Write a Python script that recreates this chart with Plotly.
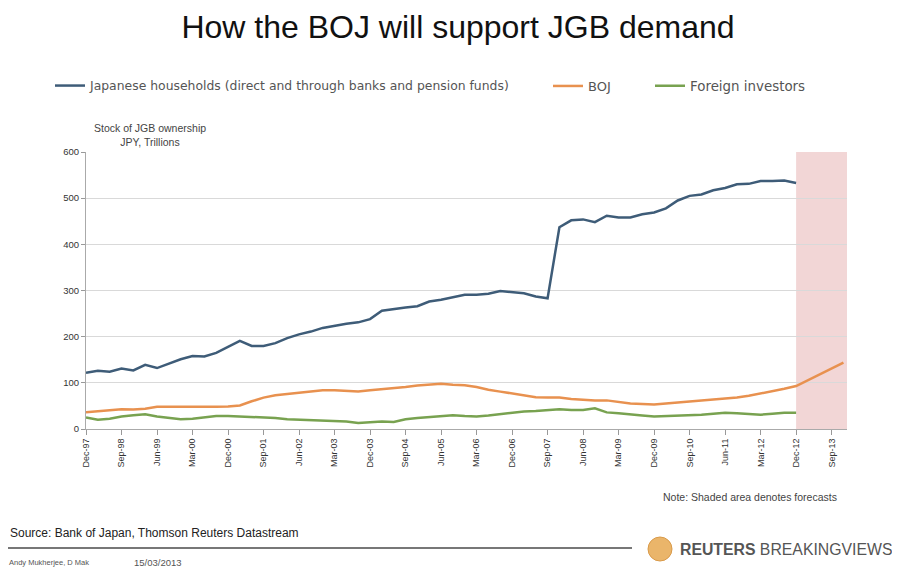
import plotly.graph_objects as go

quarters = [
    "Dec-97",
    "Mar-98", "Jun-98", "Sep-98", "Dec-98",
    "Mar-99", "Jun-99", "Sep-99", "Dec-99",
    "Mar-00", "Jun-00", "Sep-00", "Dec-00",
    "Mar-01", "Jun-01", "Sep-01", "Dec-01",
    "Mar-02", "Jun-02", "Sep-02", "Dec-02",
    "Mar-03", "Jun-03", "Sep-03", "Dec-03",
    "Mar-04", "Jun-04", "Sep-04", "Dec-04",
    "Mar-05", "Jun-05", "Sep-05", "Dec-05",
    "Mar-06", "Jun-06", "Sep-06", "Dec-06",
    "Mar-07", "Jun-07", "Sep-07", "Dec-07",
    "Mar-08", "Jun-08", "Sep-08", "Dec-08",
    "Mar-09", "Jun-09", "Sep-09", "Dec-09",
    "Mar-10", "Jun-10", "Sep-10", "Dec-10",
    "Mar-11", "Jun-11", "Sep-11", "Dec-11",
    "Mar-12", "Jun-12", "Sep-12", "Dec-12",
    "Mar-13", "Jun-13", "Sep-13", "Dec-13",
]

households = [
    122, 126, 124, 131, 127, 139, 132, 142, 151, 158, 157, 165, 178,
    191, 180, 180, 186, 197, 205, 211, 219, 224, 228, 231, 238,
    256, 260, 263, 266, 276, 280, 285, 291, 291, 293, 299, 297,
    294, 287, 283, 437, 452, 454, 448, 462, 458, 458, 465, 469,
    478, 495, 505, 508, 517, 522, 530, 531, 537, 537, 538, 533,
]

boj = [
    36, 38, 41, 43, 42, 44, 48, 48, 47, 48, 48, 48, 49,
    51, 60, 68, 73, 76, 78, 81, 84, 84, 82, 81, 84,
    86, 88, 91, 94, 96, 98, 96, 95, 91, 85, 81, 77,
    73, 69, 68, 68, 65, 63, 62, 62, 59, 55, 54, 53,
    55, 57, 60, 62, 64, 66, 68, 72, 77, 81, 87, 93,
    106, 118, 131, 144,
]

foreign = [
    25, 20, 22, 27, 30, 32, 27, 24, 21, 22, 25, 28, 28,
    27, 26, 26, 24, 21, 20, 20, 19, 18, 16, 13, 14,
    16, 15, 21, 24, 26, 29, 30, 28, 27, 29, 32, 35,
    38, 39, 41, 43, 41, 41, 45, 36, 34, 31, 29, 27,
    28, 28, 30, 31, 33, 35, 34, 33, 31, 33, 35, 35,
]

tick_labels = quarters[::3]
forecast_start = "Dec-12"

hh_color = "#3e5c78"
boj_color = "#e8914f"
fx_color = "#78a250"

# the page places the figure 8px in from the window's top-left corner
OFF = 8
W, H = 900 - OFF, 575 - OFF
PL, PR, PT, PB = 86, 847, 152, 429  # plot area in window pixels
PW, PH = PR - PL, PB - PT


def px(x):
    return (x - PL) / PW


def py(y):
    return (PB - y) / PH


def cx(x):
    return (x - OFF) / W


def cy(y):
    return 1 - (y - OFF) / H


fig = go.Figure()
fig.add_trace(go.Scatter(
    x=quarters[:len(households)], y=households, mode="lines",
    name="Japanese households (direct and through banks and pension funds)",
    line=dict(color=hh_color, width=2.5), legend="legend", showlegend=True,
))
fig.add_trace(go.Scatter(
    x=quarters[:len(boj)], y=boj, mode="lines", name="BOJ",
    line=dict(color=boj_color, width=2.5), legend="legend2", showlegend=True,
))
fig.add_trace(go.Scatter(
    x=quarters[:len(foreign)], y=foreign, mode="lines", name="Foreign investors",
    line=dict(color=fx_color, width=2.5), legend="legend3", showlegend=True,
))

fs = quarters.index(forecast_start)
fig.add_shape(type="rect", xref="x", yref="y", x0=fs, x1=len(quarters) - 1 + 0.3,
              y0=0, y1=600, fillcolor="rgba(226,165,165,0.45)", line_width=0, layer="below")


def leg(x, size):
    return dict(orientation="h", xref="container", yref="container",
                yanchor="middle", y=cy(86), xanchor="left", x=cx(x),
                font=dict(family="DejaVu Sans", size=size, color="#555555"),
                bgcolor="rgba(0,0,0,0)", itemwidth=30)


fig.update_layout(
    width=W, height=H, showlegend=True,
    paper_bgcolor="white", plot_bgcolor="white",
    margin=dict(l=PL - OFF, r=W - (PR - OFF), t=PT - OFF, b=H - (PB - OFF), autoexpand=False),
    title=dict(text="How the BOJ will support JGB demand", x=cx(458), xanchor="center",
               y=cy(27), yanchor="middle",
               font=dict(family="Liberation Sans", size=32, color="#111111")),
    legend=leg(50, 12.4),
    legend2=leg(548, 13),
    legend3=leg(650, 13.4),
    xaxis=dict(
        type="category", range=[0, len(quarters) - 1 + 0.3],
        tickmode="array", tickvals=tick_labels, ticktext=tick_labels,
        tickangle=-90, tickfont=dict(family="Liberation Sans", size=9, color="#333333"),
        ticks="outside", ticklen=5, tickcolor="#999999",
        showline=True, linecolor="#aaaaaa", linewidth=1,
        showgrid=False, zeroline=False,
    ),
    yaxis=dict(
        range=[0, 600], dtick=100,
        tickfont=dict(family="Liberation Sans", size=9.5, color="#333333"),
        ticks="outside", ticklen=4, tickcolor="#999999",
        showline=True, linecolor="#aaaaaa", linewidth=1,
        showgrid=True, gridcolor="#d9d9d9", gridwidth=1, zeroline=False,
    ),
)

fig.add_annotation(text="Stock of JGB ownership<br>JPY, Trillions", xref="paper", yref="paper",
                   x=px(150), y=py(135), xanchor="center", yanchor="middle", showarrow=False,
                   font=dict(family="Liberation Sans", size=10.5, color="#444444"), align="center")
fig.add_annotation(text="Note: Shaded area denotes forecasts", xref="paper", yref="paper",
                   x=px(839), y=py(497), xanchor="right", yanchor="middle", showarrow=False,
                   font=dict(family="Liberation Sans", size=10.5, color="#444444"))
fig.add_annotation(text="Source: Bank of Japan, Thomson Reuters Datastream", xref="paper", yref="paper",
                   x=px(8), y=py(533), xanchor="left", yanchor="middle", showarrow=False,
                   font=dict(family="Liberation Sans", size=12, color="#222222"))
fig.add_annotation(text="Andy Mukherjee, D Mak", xref="paper", yref="paper",
                   x=px(7), y=py(562), xanchor="left", yanchor="middle", showarrow=False,
                   font=dict(family="Liberation Sans", size=7.5, color="#555555"))
fig.add_annotation(text="15/03/2013", xref="paper", yref="paper",
                   x=px(132), y=py(562), xanchor="left", yanchor="middle", showarrow=False,
                   font=dict(family="Liberation Sans", size=9.5, color="#555555"))
fig.add_annotation(text="<b>REUTERS</b> BREAKINGVIEWS", xref="paper", yref="paper",
                   x=px(678), y=py(549), xanchor="left", yanchor="middle", showarrow=False,
                   font=dict(family="Liberation Sans", size=15.8, color="#555555"))

# footer rule and logo emblem
fig.add_shape(type="line", xref="paper", yref="paper",
              x0=px(OFF), x1=px(632), y0=py(548), y1=py(548),
              line=dict(color="#777777", width=2))
fig.add_shape(type="circle", xref="paper", yref="paper",
              x0=px(648), x1=px(672), y0=py(561), y1=py(537),
              fillcolor="#eab56a", line=dict(color="#d99a4a", width=1))

fig.write_html("out.html")
